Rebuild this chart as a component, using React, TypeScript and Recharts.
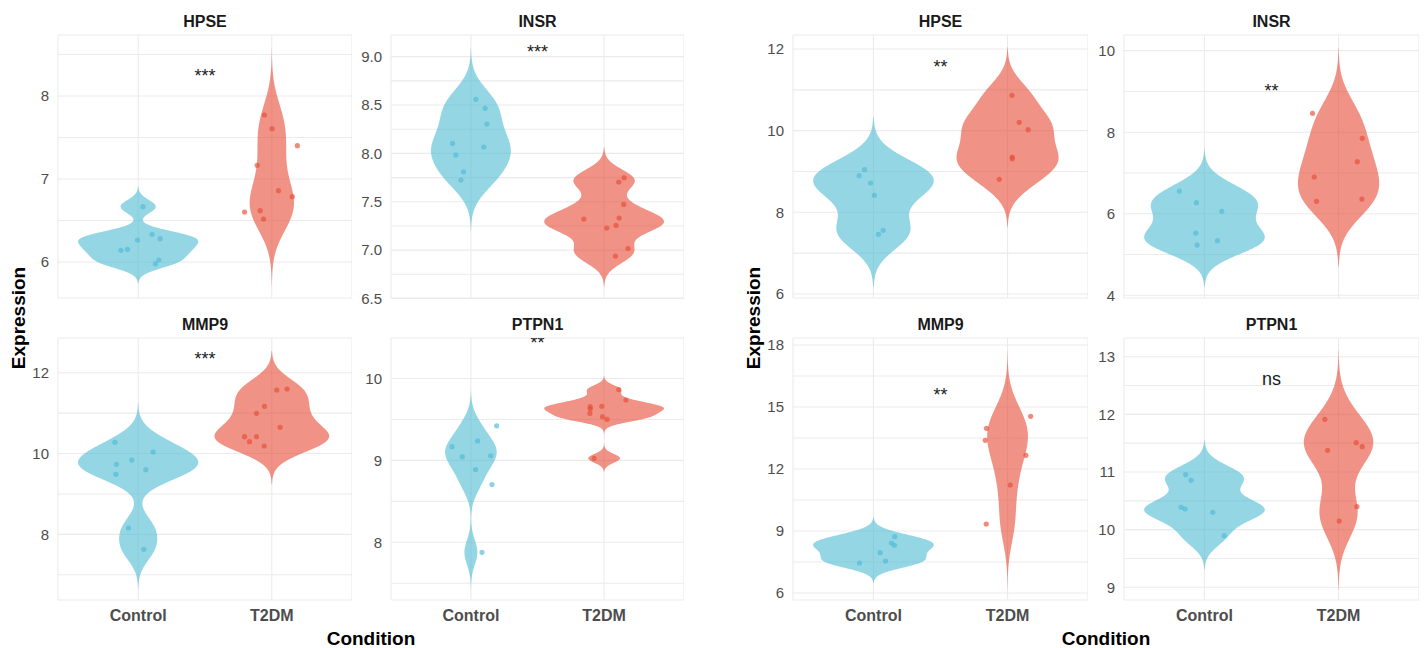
import React from 'react';
import { ComposedChart, Area, Scatter, XAxis, YAxis, CartesianGrid } from 'recharts';

type Pt = [number, number]; // [jittered x position (1 = Control, 2 = T2DM), expression]

const CONDITIONS = ['Control', 'T2DM'];
const GENES = ['HPSE', 'INSR', 'MMP9', 'PTPN1'];

// ---------- Left figure (A) ----------
const A_HPSE_CONTROL: Pt[] = [[1.035, 6.667], [1.104, 6.333], [1.164, 6.281], [0.995, 6.265], [0.92, 6.153], [0.871, 6.141], [1.154, 6.024], [1.129, 5.98]];
const A_HPSE_T2DM: Pt[] = [[1.945, 7.771], [2.002, 7.606], [2.191, 7.402], [1.89, 7.165], [2.05, 6.859], [2.153, 6.787], [1.796, 6.602], [1.913, 6.618], [1.938, 6.518]];
const A_INSR_CONTROL: Pt[] = [[1.037, 8.559], [1.107, 8.466], [1.12, 8.303], [0.862, 8.103], [1.097, 8.066], [0.887, 7.983], [0.945, 7.81], [0.925, 7.724]];
const A_INSR_T2DM: Pt[] = [[2.15, 7.748], [2.11, 7.703], [2.147, 7.472], [2.113, 7.331], [1.848, 7.321], [2.09, 7.255], [2.02, 7.228], [2.18, 7.017], [2.085, 6.938]];
const A_MMP9_CONTROL: Pt[] = [[0.826, 10.276], [1.112, 10.037], [0.952, 9.839], [0.838, 9.732], [1.057, 9.6], [0.833, 9.485], [0.928, 8.157], [1.042, 7.629]];
const A_MMP9_T2DM: Pt[] = [[2.114, 11.596], [2.037, 11.571], [1.945, 11.167], [1.885, 10.994], [2.062, 10.647], [1.796, 10.416], [1.885, 10.416], [1.833, 10.293], [1.943, 10.186]];
const A_PTPN1_CONTROL: Pt[] = [[1.193, 9.422], [1.05, 9.238], [0.858, 9.168], [0.935, 9.045], [1.148, 9.057], [1.035, 8.889], [1.158, 8.705], [1.083, 7.877]];
const A_PTPN1_T2DM: Pt[] = [[2.11, 9.865], [2.164, 9.738], [1.983, 9.66], [1.896, 9.656], [1.896, 9.631], [1.893, 9.574], [1.988, 9.533], [2.022, 9.5], [1.925, 9.025]];

const A_TICKS = [[6, 7, 8], [6.5, 7, 7.5, 8, 8.5, 9], [8, 10, 12], [8, 9, 10]];
const A_MINOR = [[6.5, 7.5, 8.5], [6.75, 7.25, 7.75, 8.25, 8.75], [7, 9, 11], [7.5, 8.5, 9.5]];
const A_DOMAIN = [[5.566, 8.735], [6.505, 9.224], [6.376, 12.858], [7.295, 10.495]];
const A_SIG = ['***', '***', '***', '**'];
const A_SIG_Y = [8.24, 9.048, 12.346, 10.442];

// ---------- Right figure (B) ----------
const B_HPSE_CONTROL: Pt[] = [[0.933, 9.045], [0.893, 8.898], [0.978, 8.718], [1.007, 8.416], [1.072, 7.559], [1.037, 7.461]];
const B_HPSE_T2DM: Pt[] = [[2.033, 10.865], [2.087, 10.204], [2.154, 10.024], [2.035, 9.355], [2.035, 9.314], [1.938, 8.808]];
const B_INSR_CONTROL: Pt[] = [[0.813, 6.558], [0.94, 6.271], [1.129, 6.059], [0.935, 5.527], [1.097, 5.339], [0.945, 5.233]];
const B_INSR_T2DM: Pt[] = [[1.806, 8.463], [2.177, 7.85], [2.14, 7.277], [1.819, 6.901], [2.174, 6.361], [1.836, 6.304]];
const B_MMP9_CONTROL: Pt[] = [[1.159, 8.726], [1.134, 8.419], [1.157, 8.306], [1.05, 7.952], [1.09, 7.548], [0.896, 7.452]];
const B_MMP9_T2DM: Pt[] = [[2.172, 14.548], [1.843, 13.968], [1.834, 13.387], [2.137, 12.661], [2.02, 11.226], [1.841, 9.339]];
const B_PTPN1_CONTROL: Pt[] = [[0.86, 10.954], [0.9, 10.855], [0.826, 10.387], [0.856, 10.358], [1.062, 10.301], [1.147, 9.896]];
const B_PTPN1_T2DM: Pt[] = [[1.898, 11.913], [2.132, 11.509], [2.177, 11.439], [1.918, 11.376], [2.137, 10.399], [2.005, 10.15]];

const B_TICKS = [[6, 8, 10, 12], [4, 6, 8, 10], [6, 9, 12, 15, 18], [9, 10, 11, 12, 13]];
const B_MINOR = [[7, 9, 11], [5, 7, 9], [7.5, 10.5, 13.5, 16.5], [9.5, 10.5, 11.5, 12.5]];
const B_DOMAIN = [[5.901, 12.343], [3.934, 10.384], [5.663, 18.339], [8.78, 13.324]];
const B_SIG = ['**', '**', '**', 'ns'];
const B_SIG_Y = [11.566, 9.026, 15.576, 12.618];

// ---------- layout ----------
const FONT = '"Liberation Sans", Arial, Helvetica, sans-serif';
const COL_LEFT = [58, 391, 793, 1124];
const COL_WIDTH = [294, 293, 295, 295];
const ROW_TOP = [35, 338];
const ROW_H = [263, 262];
const AXIS_W = 45;
const XAXIS_H = 30;
const PAD = 12;
const CTRL_COLOR = '#4EBAD4';
const T2DM_COLOR = '#E64B35';

type FacetSpec = {
  key: string; gene: string; control: Pt[]; t2dm: Pt[]; ticks: number[]; minor: number[];
  domain: number[]; sig: string; sigY: number; col: number; row: number; decimals: number;
};

const A_DATA = [[A_HPSE_CONTROL, A_HPSE_T2DM], [A_INSR_CONTROL, A_INSR_T2DM], [A_MMP9_CONTROL, A_MMP9_T2DM], [A_PTPN1_CONTROL, A_PTPN1_T2DM]];
const B_DATA = [[B_HPSE_CONTROL, B_HPSE_T2DM], [B_INSR_CONTROL, B_INSR_T2DM], [B_MMP9_CONTROL, B_MMP9_T2DM], [B_PTPN1_CONTROL, B_PTPN1_T2DM]];

const FACETS: FacetSpec[] = [];
GENES.forEach((g, i) => {
  FACETS.push({ key: 'A' + g, gene: g, control: A_DATA[i][0], t2dm: A_DATA[i][1], ticks: A_TICKS[i], minor: A_MINOR[i], domain: A_DOMAIN[i], sig: A_SIG[i], sigY: A_SIG_Y[i], col: i % 2, row: Math.floor(i / 2), decimals: g === 'INSR' ? 1 : 0 });
  FACETS.push({ key: 'B' + g, gene: g, control: B_DATA[i][0], t2dm: B_DATA[i][1], ticks: B_TICKS[i], minor: B_MINOR[i], domain: B_DOMAIN[i], sig: B_SIG[i], sigY: B_SIG_Y[i], col: 2 + (i % 2), row: Math.floor(i / 2), decimals: 0 });
});

// ---------- violin density (ggplot2 stat_ydensity: gaussian kernel, bw.nrd0, trim = FALSE, scale = "area") ----------
function bwNrd0(v: number[]) {
  const n = v.length;
  const mean = v.reduce((a, b) => a + b, 0) / n;
  const sd = Math.sqrt(v.reduce((a, b) => a + (b - mean) * (b - mean), 0) / (n - 1));
  const s = [...v].sort((a, b) => a - b);
  const q = (p: number) => {
    const h = (n - 1) * p;
    const lo = Math.floor(h);
    const hi = Math.min(lo + 1, n - 1);
    return s[lo] + (h - lo) * (s[hi] - s[lo]);
  };
  let lo = Math.min(sd, (q(0.75) - q(0.25)) / 1.34);
  if (!(lo > 0)) lo = sd || 1;
  return 0.9 * lo * Math.pow(n, -0.2);
}

function violinRows(ctrl: Pt[], t2dm: Pt[]) {
  const groups = [ctrl, t2dm].map((g) => {
    const v = g.map((p) => p[1]);
    const bw = bwNrd0(v);
    const f = (y: number) =>
      v.reduce((a, xi) => a + Math.exp(-0.5 * ((y - xi) / bw) ** 2), 0) / (v.length * bw * Math.sqrt(2 * Math.PI));
    return { f, lo: Math.min(...v) - 3 * bw, hi: Math.max(...v) + 3 * bw };
  });
  const ys: number[] = [];
  groups.forEach((g) => {
    for (let i = 0; i <= 300; i++) ys.push(g.lo + ((g.hi - g.lo) * i) / 300);
  });
  ys.sort((a, b) => a - b);
  let maxD = 0;
  groups.forEach((g) => ys.forEach((y) => { if (y >= g.lo - 1e-9 && y <= g.hi + 1e-9) maxD = Math.max(maxD, g.f(y)); }));
  return ys.map((y) => {
    const row: Record<string, any> = { y };
    groups.forEach((g, i) => {
      const key = i === 0 ? 'ctrl' : 't2dm';
      if (y >= g.lo - 1e-9 && y <= g.hi + 1e-9) {
        const hw = (0.45 * g.f(y)) / maxD;
        row[key] = [i + 1 - hw, i + 1 + hw];
      } else row[key] = null;
    });
    return row;
  });
}

const dotShape = (color: string) => (props: any) => (
  <circle cx={props.cx} cy={props.cy} r={2.6} fill={color} fillOpacity={0.65} />
);

const sigShape = (props: any) => (
  <text x={props.cx} y={props.cy} dy="0.35em" textAnchor="middle" fontSize={18} fontFamily={FONT} fill="#1A1A1A">
    {props.payload.label}
  </text>
);

function Facet({ f }: { f: FacetSpec }) {
  const rows = violinRows(f.control, f.t2dm);
  const showX = f.row === 1;
  const panelW = COL_WIDTH[f.col];
  const panelH = ROW_H[f.row];
  const w = panelW + AXIS_W;
  const bottomPad = showX ? 0 : PAD;
  const h = PAD + panelH + bottomPad + (showX ? XAXIS_H : 0);
  const allTicks = [...f.ticks, ...f.minor].sort((a, b) => a - b);
  const isMajor = (v: number) => f.ticks.some((t) => Math.abs(t - v) < 1e-9);
  const ctrlPts = f.control.map((p) => ({ x: p[0], y: p[1] }));
  const t2dmPts = f.t2dm.map((p) => ({ x: p[0], y: p[1] }));
  const tickStyle = { fontSize: 15, fill: '#4D4D4D', fontFamily: FONT };
  return (
    <div style={{ position: 'absolute', left: COL_LEFT[f.col] - AXIS_W, top: ROW_TOP[f.row] - PAD, width: w, height: h }}>
      <ComposedChart layout="vertical" width={w} height={h} data={rows} margin={{ top: PAD, right: 0, bottom: bottomPad, left: 0 }}>
        <CartesianGrid stroke="#EBEBEB" strokeWidth={1.1} />
        <XAxis
          type="number"
          dataKey="x"
          domain={[0.4, 2.6]}
          allowDataOverflow
          ticks={[1, 2]}
          interval={0}
          tickFormatter={(v: number) => CONDITIONS[Math.round(v) - 1]}
          hide={!showX}
          height={XAXIS_H}
          axisLine={false}
          tickLine={false}
          tickSize={0}
          tickMargin={10}
          tick={{ fontSize: 16, fontWeight: 700, fill: '#4D4D4D', fontFamily: FONT }}
        />
        <YAxis
          type="number"
          dataKey="y"
          reversed
          domain={f.domain}
          allowDataOverflow
          ticks={allTicks}
          interval={0}
          tickFormatter={(v: number) => (isMajor(v) ? v.toFixed(f.decimals) : '')}
          width={AXIS_W}
          axisLine={false}
          tickLine={false}
          tickSize={0}
          tickMargin={9}
          tick={tickStyle}
        />
        <Area dataKey="ctrl" fill={CTRL_COLOR} fillOpacity={0.6} stroke="none" dot={false} activeDot={false} isAnimationActive={false} />
        <Area dataKey="t2dm" fill={T2DM_COLOR} fillOpacity={0.6} stroke="none" dot={false} activeDot={false} isAnimationActive={false} />
        <Scatter data={ctrlPts} shape={dotShape(CTRL_COLOR)} isAnimationActive={false} />
        <Scatter data={t2dmPts} shape={dotShape(T2DM_COLOR)} isAnimationActive={false} />
        <Scatter data={[{ x: 1.5, y: f.sigY, label: f.sig }]} shape={sigShape} isAnimationActive={false} />
      </ComposedChart>
    </div>
  );
}

export default function App() {
  const titleStyle = { fontFamily: FONT, fontWeight: 700 } as const;
  return (
    <div style={{ position: 'absolute', left: 0, top: 0, width: 1427, height: 648, background: '#FFFFFF', overflow: 'hidden' }}>
      {FACETS.map((f) => (
        <Facet key={f.key} f={f} />
      ))}
      <svg width={1427} height={648} style={{ position: 'absolute', left: 0, top: 0, pointerEvents: 'none' }}>
        {FACETS.map((f) => (
          <text
            key={'t' + f.key}
            x={COL_LEFT[f.col] + COL_WIDTH[f.col] / 2}
            y={ROW_TOP[f.row] - 8.3}
            textAnchor="middle"
            fontSize={16}
            fill="#1A1A1A"
            style={titleStyle}
          >
            {f.gene}
          </text>
        ))}
        {[25, 760].map((x) => (
          <text key={'e' + x} x={x} y={318} transform={`rotate(-90 ${x} 318)`} textAnchor="middle" fontSize={19} fill="#000" style={titleStyle}>
            Expression
          </text>
        ))}
        {[371, 1106].map((x) => (
          <text key={'c' + x} x={x} y={645} textAnchor="middle" fontSize={19} fill="#000" style={titleStyle}>
            Condition
          </text>
        ))}
      </svg>
    </div>
  );
}
